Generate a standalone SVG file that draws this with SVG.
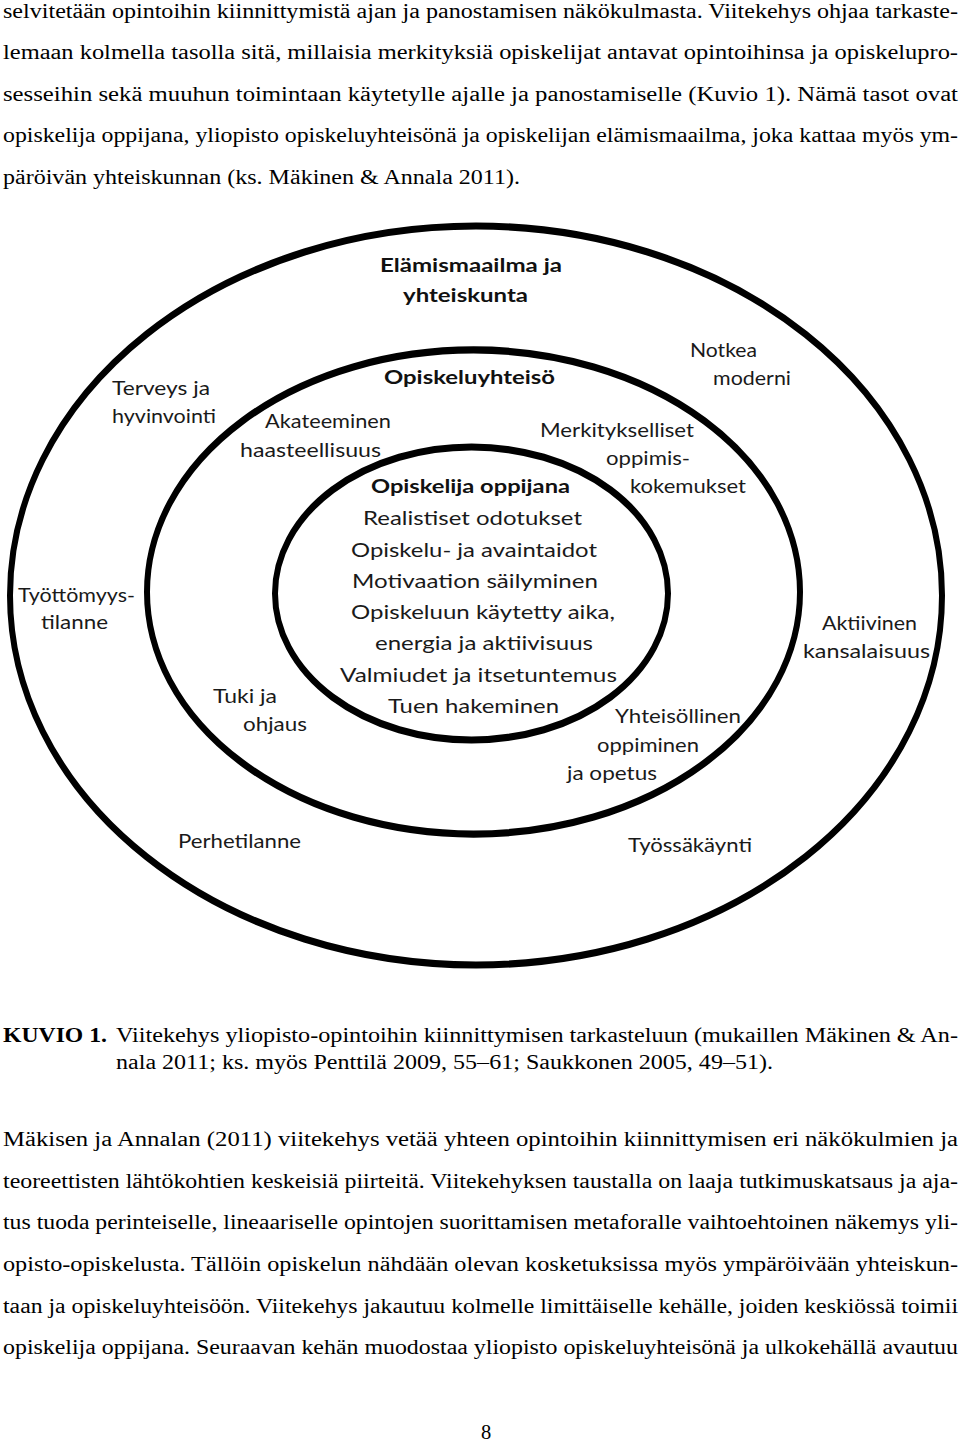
<svg xmlns="http://www.w3.org/2000/svg" width="960" height="1442" viewBox="0 0 960 1442">
<style>
.body{font-family:"Liberation Serif","Times New Roman",serif;font-size:20.5px;fill:#000}
.b{font-weight:bold}
.d{font-family:Lato,"Open Sans",sans-serif;font-size:19px;fill:#1a1a1a}
.db{font-family:Lato,"Open Sans",sans-serif;font-size:19px;font-weight:bold;fill:#111}
.ring{fill:none;stroke:#000;stroke-width:6}
</style>
<rect width="960" height="1442" fill="#fff"/>
<g id="text-top">
<text class="body" x="3" y="18" textLength="955" lengthAdjust="spacingAndGlyphs">selvitetään opintoihin kiinnittymistä ajan ja panostamisen näkökulmasta. Viitekehys ohjaa tarkaste-</text>
<text class="body" x="3" y="59" textLength="955" lengthAdjust="spacingAndGlyphs">lemaan kolmella tasolla sitä, millaisia merkityksiä opiskelijat antavat opintoihinsa ja opiskelupro-</text>
<text class="body" x="3" y="101" textLength="955" lengthAdjust="spacingAndGlyphs">sesseihin sekä muuhun toimintaan käytetylle ajalle ja panostamiselle (Kuvio 1). Nämä tasot ovat</text>
<text class="body" x="3" y="142" textLength="955" lengthAdjust="spacingAndGlyphs">opiskelija oppijana, yliopisto opiskeluyhteisönä ja opiskelijan elämismaailma, joka kattaa myös ym-</text>
<text class="body" x="3" y="184" textLength="517" lengthAdjust="spacingAndGlyphs">päröivän yhteiskunnan (ks. Mäkinen &amp; Annala 2011).</text>
</g>
<g id="rings">
<ellipse id="outer-ring" class="ring" transform="translate(476 595.5) scale(1 1.2)" cx="0" cy="0" rx="466" ry="307.9"/>
<ellipse id="middle-ring" class="ring" transform="translate(473.5 592) scale(1 1.2)" cx="0" cy="0" rx="326.5" ry="201.7"/>
<ellipse id="inner-ring" class="ring" transform="translate(471.5 593.5) scale(1 1.2)" cx="0" cy="0" rx="196.5" ry="122.1"/>
</g>
<g id="outer-labels">
<text class="db" x="380" y="272" textLength="182" lengthAdjust="spacingAndGlyphs">Elämismaailma ja</text>
<text class="db" x="403" y="302" textLength="125" lengthAdjust="spacingAndGlyphs">yhteiskunta</text>
<text class="d" x="690" y="357" textLength="67" lengthAdjust="spacingAndGlyphs">Notkea</text>
<text class="d" x="713" y="385" textLength="78" lengthAdjust="spacingAndGlyphs">moderni</text>
<text class="d" x="112" y="395" textLength="98" lengthAdjust="spacingAndGlyphs">Terveys ja</text>
<text class="d" x="112" y="423" textLength="104" lengthAdjust="spacingAndGlyphs">hyvinvointi</text>
<text class="d" x="18" y="602" textLength="117" lengthAdjust="spacingAndGlyphs">Työttömyys-</text>
<text class="d" x="41" y="629" textLength="67" lengthAdjust="spacingAndGlyphs">tilanne</text>
<text class="d" x="822" y="630" textLength="95" lengthAdjust="spacingAndGlyphs">Aktiivinen</text>
<text class="d" x="803" y="658" textLength="127" lengthAdjust="spacingAndGlyphs">kansalaisuus</text>
<text class="d" x="178" y="848" textLength="123" lengthAdjust="spacingAndGlyphs">Perhetilanne</text>
<text class="d" x="628" y="852" textLength="124" lengthAdjust="spacingAndGlyphs">Työssäkäynti</text>
</g>
<g id="middle-labels">
<text class="db" x="384" y="384" textLength="171" lengthAdjust="spacingAndGlyphs">Opiskeluyhteisö</text>
<text class="d" x="265" y="428" textLength="126" lengthAdjust="spacingAndGlyphs">Akateeminen</text>
<text class="d" x="240" y="457" textLength="141" lengthAdjust="spacingAndGlyphs">haasteellisuus</text>
<text class="d" x="540" y="437" textLength="154" lengthAdjust="spacingAndGlyphs">Merkitykselliset</text>
<text class="d" x="606" y="465" textLength="84" lengthAdjust="spacingAndGlyphs">oppimis-</text>
<text class="d" x="630" y="493" textLength="116" lengthAdjust="spacingAndGlyphs">kokemukset</text>
<text class="d" x="213" y="703" textLength="64" lengthAdjust="spacingAndGlyphs">Tuki ja</text>
<text class="d" x="243" y="731" textLength="64" lengthAdjust="spacingAndGlyphs">ohjaus</text>
<text class="d" x="615" y="723" textLength="126" lengthAdjust="spacingAndGlyphs">Yhteisöllinen</text>
<text class="d" x="597" y="752" textLength="102" lengthAdjust="spacingAndGlyphs">oppiminen</text>
<text class="d" x="567" y="780" textLength="90" lengthAdjust="spacingAndGlyphs">ja opetus</text>
</g>
<g id="inner-labels">
<text class="db" x="371" y="493" textLength="199" lengthAdjust="spacingAndGlyphs">Opiskelija oppijana</text>
<text class="d" x="363" y="525" textLength="219" lengthAdjust="spacingAndGlyphs">Realistiset odotukset</text>
<text class="d" x="351" y="557" textLength="246" lengthAdjust="spacingAndGlyphs">Opiskelu- ja avaintaidot</text>
<text class="d" x="352" y="588" textLength="246" lengthAdjust="spacingAndGlyphs">Motivaation säilyminen</text>
<text class="d" x="351" y="619" textLength="264" lengthAdjust="spacingAndGlyphs">Opiskeluun käytetty aika,</text>
<text class="d" x="375" y="650" textLength="218" lengthAdjust="spacingAndGlyphs">energia ja aktiivisuus</text>
<text class="d" x="340" y="682" textLength="277" lengthAdjust="spacingAndGlyphs">Valmiudet ja itsetuntemus</text>
<text class="d" x="388" y="713" textLength="171" lengthAdjust="spacingAndGlyphs">Tuen hakeminen</text>
</g>
<g id="caption">
<text class="body b" x="3" y="1042" textLength="104" lengthAdjust="spacingAndGlyphs">KUVIO 1.</text>
<text class="body" x="116" y="1042" textLength="842" lengthAdjust="spacingAndGlyphs">Viitekehys yliopisto-opintoihin kiinnittymisen tarkasteluun (mukaillen Mäkinen &amp; An-</text>
<text class="body" x="116" y="1069" textLength="657" lengthAdjust="spacingAndGlyphs">nala 2011; ks. myös Penttilä 2009, 55–61; Saukkonen 2005, 49–51).</text>
</g>
<g id="text-bottom">
<text class="body" x="3" y="1146" textLength="955" lengthAdjust="spacingAndGlyphs">Mäkisen ja Annalan (2011) viitekehys vetää yhteen opintoihin kiinnittymisen eri näkökulmien ja</text>
<text class="body" x="3" y="1188" textLength="955" lengthAdjust="spacingAndGlyphs">teoreettisten lähtökohtien keskeisiä piirteitä. Viitekehyksen taustalla on laaja tutkimuskatsaus ja aja-</text>
<text class="body" x="3" y="1229" textLength="955" lengthAdjust="spacingAndGlyphs">tus tuoda perinteiselle, lineaariselle opintojen suorittamisen metaforalle vaihtoehtoinen näkemys yli-</text>
<text class="body" x="3" y="1271" textLength="955" lengthAdjust="spacingAndGlyphs">opisto-opiskelusta. Tällöin opiskelun nähdään olevan kosketuksissa myös ympäröivään yhteiskun-</text>
<text class="body" x="3" y="1313" textLength="955" lengthAdjust="spacingAndGlyphs">taan ja opiskeluyhteisöön. Viitekehys jakautuu kolmelle limittäiselle kehälle, joiden keskiössä toimii</text>
<text class="body" x="3" y="1354" textLength="955" lengthAdjust="spacingAndGlyphs">opiskelija oppijana. Seuraavan kehän muodostaa yliopisto opiskeluyhteisönä ja ulkokehällä avautuu</text>
<text class="body" x="486" y="1439" text-anchor="middle">8</text>
</g>
</svg>
